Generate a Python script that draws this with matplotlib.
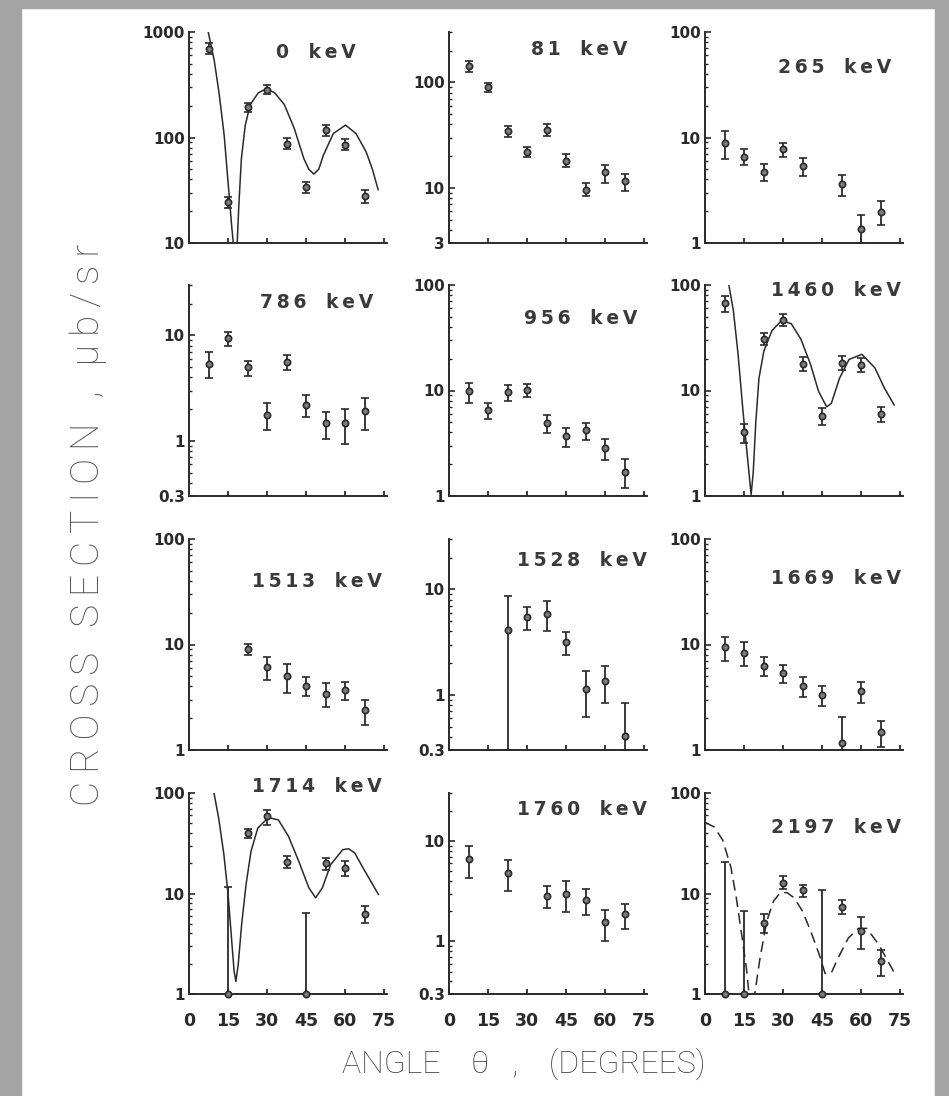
import matplotlib.pyplot as plt
from matplotlib.patches import Rectangle

# angulos medidos (graus)
ang = [7.5, 15, 22.5, 30, 37.5, 45, 52.5, 60, 67.5]

# 0 keV
x_0 = ang
y_0 = [690, 24.4, 193, 285, 87, 33.6, 117, 85, 28]
lo_0 = [617, 21.4, 174, 257, 77, 29.5, 104, 75.5, 24]
hi_0 = [783, 27, 212, 316, 98, 37.5, 131, 96, 32]
cx_0 = [7.2, 9.7, 11.6, 13.5, 15.1, 16.4, 17.0, 17.75, 18.5, 19.1, 20.1, 21.6, 23.5,
        26.6, 29.7, 32.9, 36.6, 40.4, 44.1, 46.0, 47.9, 49.8, 51.6, 55.4, 60.1,
        64.1, 68.0, 70.4, 72.6]
cy_0 = [1050, 535, 257, 105, 35, 14.3, 10, 2, 10, 22, 63, 131, 205,
        265, 290, 265, 205, 122, 63, 50, 45, 50, 68, 109, 131,
        109, 73, 50, 32]

# 81 keV
x_81 = ang
y_81 = [143, 90, 34.5, 22, 35, 18, 9.6, 14, 11.5]
lo_81 = [125, 81, 30.5, 19.5, 31, 15.9, 8.3, 11.2, 9.4]
hi_81 = [161, 99, 38.5, 24.5, 40.7, 20.8, 11.1, 16.5, 13.5]

# 265 keV
x_265 = [7.5, 15, 22.5, 30, 37.5, 52.5, 60, 67.5]
y_265 = [8.9, 6.5, 4.75, 7.7, 5.4, 3.6, 1.37, 1.98]
lo_265 = [6.2, 5.5, 3.85, 6.6, 4.35, 2.8, 1.0, 1.47]
hi_265 = [11.5, 7.7, 5.6, 8.9, 6.4, 4.4, 1.85, 2.5]

# 786 keV
x_786 = ang
y_786 = [5.4, 9.5, 4.96, 1.77, 5.56, 2.2, 1.48, 1.48, 1.9]
lo_786 = [3.9, 7.9, 4.1, 1.26, 4.65, 1.67, 1.04, 0.94, 1.26]
hi_786 = [6.9, 10.8, 5.7, 2.3, 6.5, 2.7, 1.88, 2.0, 2.54]

# 956 keV
x_956 = ang
y_956 = [9.8, 6.5, 9.6, 10.1, 4.9, 3.67, 4.2, 2.85, 1.7]
lo_956 = [7.6, 5.4, 8.0, 8.6, 3.95, 2.9, 3.4, 2.2, 1.2]
hi_956 = [11.7, 7.6, 11.3, 11.6, 5.9, 4.4, 4.9, 3.5, 2.24]

# 1460 keV
x_1460 = ang
y_1460 = [67, 4.0, 30.7, 47, 17.7, 5.75, 18.3, 17.4, 6.05]
lo_1460 = [55, 3.16, 27, 41, 15.2, 4.7, 15.8, 15, 5.0]
hi_1460 = [78, 4.85, 35, 53.5, 20.7, 6.8, 21.2, 20.2, 7.0]
cx_1460 = [9.0, 10.9, 12.7, 14.6, 16.4, 17.7, 18.5, 19.5, 20.7, 22.6, 25.7, 29.4,
           33.1, 36.8, 40.5, 43.6, 46.7, 48.5, 51.6, 55.3, 60.2, 65.2, 68.9, 72.6]
cy_1460 = [105, 57, 22, 6.3, 2.2, 1.03, 1.66, 5, 13, 23.7, 37, 46,
           43, 30.7, 17.7, 9.8, 7.0, 7.55, 13, 19.7, 22, 16.4, 10.5, 7.3]

# 1513 keV
x_1513 = [22.5, 30, 37.5, 45, 52.5, 60, 67.5]
y_1513 = [9.06, 6.08, 5.06, 4.07, 3.4, 3.73, 2.4]
lo_1513 = [8.0, 4.6, 3.47, 3.27, 2.57, 3.0, 1.74]
hi_1513 = [10.1, 7.6, 6.6, 4.9, 4.3, 4.4, 3.0]

# 1528 keV
x_1528 = [22.5, 30, 37.5, 45, 52.5, 60, 67.5]
y_1528 = [4.16, 5.5, 5.87, 3.15, 1.14, 1.36, 0.41]
lo_1528 = [0.3, 4.16, 4.07, 2.4, 0.62, 0.83, 0.3]
hi_1528 = [8.6, 6.8, 7.7, 3.9, 1.67, 1.89, 0.83]

# 1669 keV
x_1669 = ang
y_1669 = [9.5, 8.3, 6.3, 5.4, 4.06, 3.35, 1.17, 3.63, 1.48]
lo_1669 = [7.0, 6.2, 5.0, 4.35, 3.2, 2.6, 1.0, 2.8, 1.07]
hi_1669 = [11.8, 10.6, 7.6, 6.4, 4.9, 4.0, 2.07, 4.4, 1.9]

# 1714 keV
x_1714 = [15, 22.5, 30, 37.5, 45, 52.5, 60, 67.5]
y_1714 = [1.0, 40, 58.4, 20.5, 1.0, 20.1, 18, 6.2]
lo_1714 = [1.0, 35.7, 48, 18, 1.0, 17.3, 14.9, 5.1]
hi_1714 = [11.6, 44, 68, 23.4, 6.4, 22.6, 20.9, 7.5]
cx_1714 = [9.5, 11.4, 13.4, 15.0, 16.3, 17.3, 18.0, 18.9, 20.2, 21.9, 23.8, 26.4,
           30.4, 34.3, 38.2, 42.1, 46.0, 48.6, 51.2, 54.4, 59.0, 61.3, 63.6, 66.8, 72.7]
cy_1714 = [103, 56, 24.3, 9.8, 3.64, 1.7, 1.33, 1.98, 4.9, 12.3, 26.3, 44.7,
           57, 54, 37, 21, 11.4, 9.06, 11.4, 19.4, 27.3, 27.9, 25.3, 18, 9.8]

# 1760 keV
x_1760 = [7.5, 22.5, 37.5, 45, 52.5, 60, 67.5]
y_1760 = [6.6, 4.78, 2.84, 3.0, 2.58, 1.55, 1.88]
lo_1760 = [4.3, 3.2, 2.14, 1.95, 1.84, 1.02, 1.34]
hi_1760 = [8.9, 6.5, 3.54, 4.0, 3.3, 2.06, 2.36]

# 2197 keV
x_2197 = ang
y_2197 = [1.0, 1.0, 5.1, 12.8, 10.8, 1.0, 7.3, 4.27, 2.13]
lo_2197 = [1.0, 1.0, 4.0, 11, 9.3, 1.0, 6.2, 2.8, 1.52]
hi_2197 = [20.4, 6.7, 6.2, 15, 12.2, 10.8, 8.7, 5.8, 2.75]
cx_2197 = [0.0, 3.5, 6.8, 10.0, 12.0, 13.9, 15.9, 16.9, 18.0, 19.1, 21.1, 23.7,
           26.3, 28.9, 31.5, 34.1, 37.4, 40.6, 43.9, 46.1, 48.4, 51.0, 55.0,
           58.9, 62.1, 66.7, 72.5]
cy_2197 = [51, 46, 34, 18, 9.1, 4.2, 1.8, 1.0, 0.5, 1.0, 2.26, 5.3,
           8.4, 10.2, 10.2, 9.1, 6.7, 4.2, 2.45, 1.6, 1.6, 2.26, 3.6,
           4.5, 4.5, 3.1, 1.66]

titles = ["0 keV", "81 keV", "265 keV", "786 keV", "956 keV", "1460 keV",
          "1513 keV", "1528 keV", "1669 keV", "1714 keV", "1760 keV", "2197 keV"]
ylims = [(10, 1000), (3, 300), (1, 100), (0.3, 30), (1, 100), (1, 100),
         (1, 100), (0.3, 30), (1, 100), (1, 100), (0.3, 30), (1, 100)]
yticks = [[10, 100, 1000], [3, 10, 100], [1, 10, 100], [0.3, 1, 10], [1, 10, 100],
          [1, 10, 100], [1, 10, 100], [0.3, 1, 10], [1, 10, 100], [1, 10, 100],
          [0.3, 1, 10], [1, 10, 100]]
ytick_labels = [["10", "100", "1000"], ["3", "10", "100"], ["1", "10", "100"],
                ["0.3", "1", "10"], ["1", "10", "100"], ["1", "10", "100"],
                ["1", "10", "100"], ["0.3", "1", "10"], ["1", "10", "100"],
                ["1", "10", "100"], ["0.3", "1", "10"], ["1", "10", "100"]]
xticks = [0, 15, 30, 45, 60, 75]

dados = [(x_0, y_0, lo_0, hi_0), (x_81, y_81, lo_81, hi_81),
         (x_265, y_265, lo_265, hi_265), (x_786, y_786, lo_786, hi_786),
         (x_956, y_956, lo_956, hi_956), (x_1460, y_1460, lo_1460, hi_1460),
         (x_1513, y_1513, lo_1513, hi_1513), (x_1528, y_1528, lo_1528, hi_1528),
         (x_1669, y_1669, lo_1669, hi_1669), (x_1714, y_1714, lo_1714, hi_1714),
         (x_1760, y_1760, lo_1760, hi_1760), (x_2197, y_2197, lo_2197, hi_2197)]
curvas = {0: (cx_0, cy_0, "-"), 5: (cx_1460, cy_1460, "-"),
          9: (cx_1714, cy_1714, "-"), 11: (cx_2197, cy_2197, "--")}

# posicao dos titulos (fracao dos eixos: borda direita, centro vertical)
pos_titulo = [(0.84, 0.905), (0.90, 0.915), (0.94, 0.834), (0.93, 0.915),
              (0.95, 0.84), (0.99, 0.976), (0.975, 0.80), (1.0, 0.896),
              (0.99, 0.815), (0.975, 1.03), (1.0, 0.92), (0.99, 0.83)]

W, H = 949, 1096
fig = plt.figure(figsize=(W / 100, H / 100), dpi=100)
fig.patch.set_facecolor("white")

# bordas cinzas do scan
cinza = "#a4a4a4"
fig.patches.append(Rectangle((0, 0), 21 / W, 1, transform=fig.transFigure, color=cinza, zorder=0))
fig.patches.append(Rectangle((935 / W, 0), 14 / W, 1, transform=fig.transFigure, color=cinza, zorder=0))
fig.patches.append(Rectangle((0, 1 - 8 / H), 1, 8 / H, transform=fig.transFigure, color=cinza, zorder=0))

col_left = [189, 449, 705]
col_w = 198
row_top = [32, 285, 539, 793]
row_bot = [243, 496, 750, 994]

tinta = "#2a2a2a"
fonte = "DejaVu Sans"
ts = "\u2009"

for i in range(12):
    r, c = divmod(i, 3)
    ax = fig.add_axes([col_left[c] / W, 1 - row_bot[r] / H, col_w / W,
                       (row_bot[r] - row_top[r]) / H])
    ax.set_facecolor("none")
    ax.set_yscale("log")
    ax.set_xlim(0, 76)
    ax.set_ylim(*ylims[i])
    for s in ["top", "right"]:
        ax.spines[s].set_visible(False)
    for s in ["left", "bottom"]:
        ax.spines[s].set_linewidth(1.4)
        ax.spines[s].set_color(tinta)

    x, y, lo, hi = dados[i]
    yerr = [[v - l for v, l in zip(y, lo)], [h - v for v, h in zip(y, hi)]]
    ax.errorbar(x, y, yerr=yerr, fmt="o", ms=4.5, mfc="#7d7d7d", mec=tinta, mew=1.2,
                ecolor=tinta, elinewidth=1.3, capsize=3, capthick=1.3, clip_on=False,
                zorder=3)

    if i in curvas:
        cx, cy, ls = curvas[i]
        if ls == "--":
            ax.plot(cx, cy, color=tinta, lw=1.1, ls=(0, (7, 4)))
        else:
            ax.plot(cx, cy, color=tinta, lw=1.1)

    ax.set_yticks(yticks[i])
    ax.set_yticklabels(ytick_labels[i])
    ax.yaxis.set_minor_formatter(plt.NullFormatter())
    ax.set_xticks(xticks)
    ax.tick_params(axis="both", which="both", direction="in", colors=tinta)
    ax.tick_params(axis="y", which="major", length=4, width=1.2, pad=3,
                   labelsize=11)
    ax.tick_params(axis="y", which="minor", length=2.5, width=1)
    ax.tick_params(axis="x", length=3.5, width=1.3, pad=13, labelsize=12.5)
    for lab in ax.get_yticklabels() + ax.get_xticklabels():
        lab.set_fontweight("bold")
        lab.set_fontfamily(fonte)
    if r < 3:
        ax.set_xticklabels([])

    num, unid = titles[i].split()
    txt = ts.join(num) + "   " + ts.join(unid)
    tx, ty = pos_titulo[i]
    ax.text(tx, ty, txt, transform=ax.transAxes, ha="right", va="center",
            fontsize=13.5, fontweight="bold", family=fonte, color="#3a3a3a")

# rotulos dos eixos
rot_y = ts.join("CROSS SECTION , \u03bcb/sr")
rot_x = "ANGLE    \u03b8   ,    (DEGREES)"
fig.text(88 / W, 1 - 525 / H, rot_y, rotation=90, ha="center",
         va="center", fontsize=28, family="Roboto", fontweight="light", color="#555555")
fig.text(524 / W, 1 - 1064 / H, rot_x, ha="center",
         va="center", fontsize=23, family="Roboto", fontweight="light", color="#444444")

fig.savefig("out.png", dpi=100)
